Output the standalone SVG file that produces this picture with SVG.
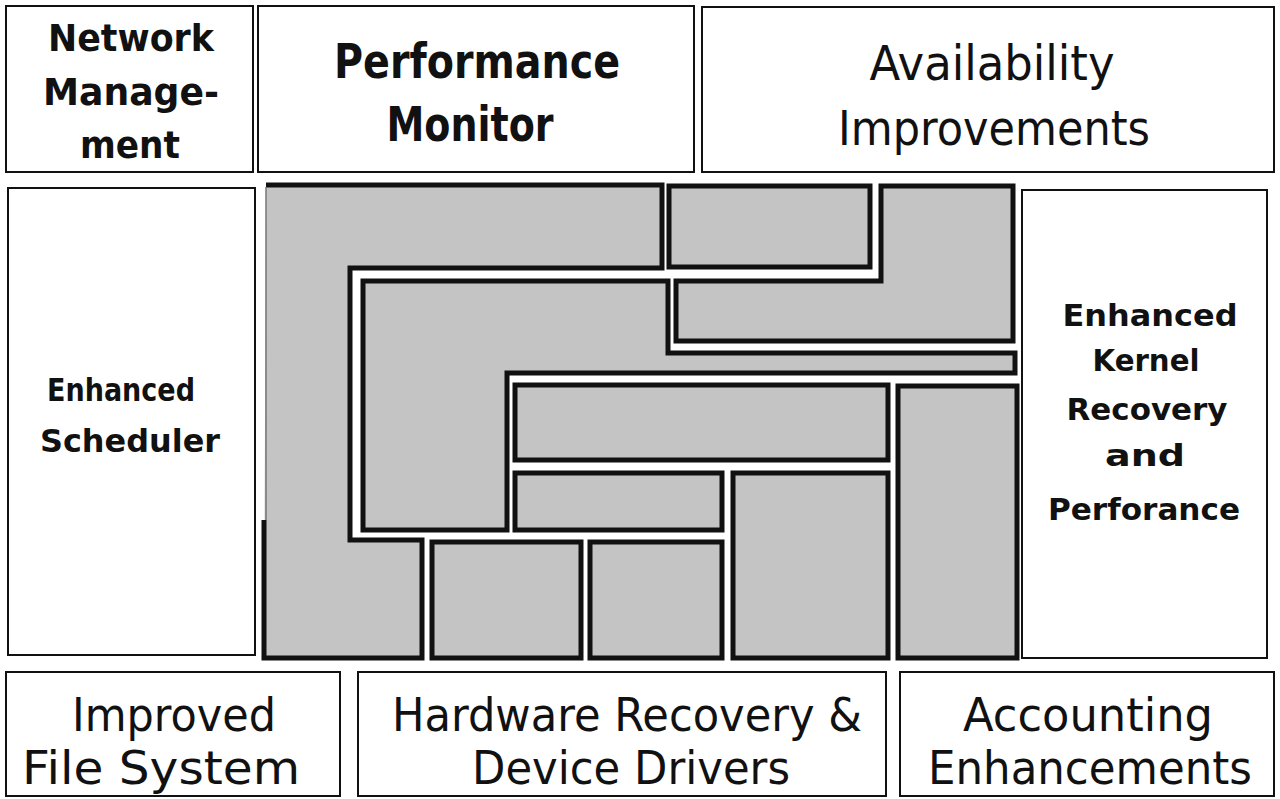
<svg xmlns="http://www.w3.org/2000/svg" width="1280" height="799" viewBox="0 0 1280 799">
<defs>
<style>
.box{fill:#fff;stroke:#111;stroke-width:2}
.sh{fill:#c4c4c4;stroke:#111;stroke-width:5;stroke-linejoin:miter}
.shf{fill:#c4c4c4;stroke:none}
.shs{fill:none;stroke:#111;stroke-width:5;stroke-linejoin:miter}
.t{font-family:"DejaVu Sans","Liberation Sans",sans-serif;fill:#111;text-anchor:middle}
.b{font-weight:bold}
</style>
</defs>
<rect x="0" y="0" width="1280" height="799" fill="#fff"/>

<g id="network-management">
<rect class="box" x="6" y="6" width="247" height="166"/>
<text class="t b" x="131" y="51" font-size="38" textLength="166" lengthAdjust="spacingAndGlyphs">Network</text>
<text class="t b" x="131" y="105" font-size="38" textLength="176" lengthAdjust="spacingAndGlyphs">Manage-</text>
<text class="t b" x="130" y="158" font-size="38" textLength="100" lengthAdjust="spacingAndGlyphs">ment</text>
</g>
<g id="performance-monitor">
<rect class="box" x="258" y="6" width="436" height="166"/>
<text class="t b" x="477" y="78" font-size="48" textLength="286" lengthAdjust="spacingAndGlyphs">Performance</text>
<text class="t b" x="470" y="141" font-size="48" textLength="167" lengthAdjust="spacingAndGlyphs">Monitor</text>
</g>
<g id="availability-improvements">
<rect class="box" x="702" y="7" width="572" height="165"/>
<text class="t" x="992" y="80" font-size="48" textLength="245" lengthAdjust="spacingAndGlyphs">Availability</text>
<text class="t" x="994" y="145" font-size="48" textLength="312" lengthAdjust="spacingAndGlyphs">Improvements</text>
</g>

<g id="enhanced-scheduler">
<rect class="box" x="8" y="188" width="247" height="467"/>
<text class="t b" x="121" y="401" font-size="32" textLength="148" lengthAdjust="spacingAndGlyphs">Enhanced</text>
<text class="t b" x="130" y="452" font-size="32" textLength="180" lengthAdjust="spacingAndGlyphs">Scheduler</text>
</g>
<g id="enhanced-kernel">
<rect class="box" x="1022" y="190" width="245" height="468"/>
<text class="t b" x="1150" y="326" font-size="31" textLength="175" lengthAdjust="spacingAndGlyphs">Enhanced</text>
<text class="t b" x="1146" y="371" font-size="31" textLength="107" lengthAdjust="spacingAndGlyphs">Kernel</text>
<text class="t b" x="1147" y="420" font-size="31" textLength="161" lengthAdjust="spacingAndGlyphs">Recovery</text>
<text class="t b" x="1145" y="466" font-size="31" textLength="80" lengthAdjust="spacingAndGlyphs">and</text>
<text class="t b" x="1144" y="520" font-size="31" textLength="192" lengthAdjust="spacingAndGlyphs">Perforance</text>
</g>

<g id="kernel-blocks">
<path class="shf" d="M266,185 H662 V268 H350 V540 H422 V658 H264 Z"/>
<path class="shs" d="M264,520 V658 H422 V540 H350 V268 H662 V185 H266"/>
<path d="M266,187 V520" fill="none" stroke="#777" stroke-width="1.5"/>
<rect class="sh" x="669" y="186" width="201" height="81"/>
<path class="sh" d="M881,186 H1013 V341 H676 V281 H881 Z"/>
<path class="sh" d="M363,281 H668 V353 H1015 V373 H507 V530 H363 Z"/>
<rect class="sh" x="515" y="385" width="373" height="75"/>
<rect class="sh" x="515" y="473" width="207" height="57"/>
<rect class="sh" x="733" y="473" width="155" height="185"/>
<rect class="sh" x="898" y="386" width="119" height="272"/>
<rect class="sh" x="432" y="542" width="149" height="116"/>
<rect class="sh" x="590" y="542" width="132" height="116"/>
</g>

<g id="improved-file-system">
<rect class="box" x="6" y="672" width="334" height="124"/>
<text class="t" x="174" y="731" font-size="46" textLength="204" lengthAdjust="spacingAndGlyphs">Improved</text>
<text class="t" x="161" y="784" font-size="46" textLength="278" lengthAdjust="spacingAndGlyphs">File System</text>
</g>
<g id="hardware-recovery">
<rect class="box" x="358" y="672" width="528" height="124"/>
<text class="t" x="627" y="731" font-size="46" textLength="470" lengthAdjust="spacingAndGlyphs">Hardware Recovery &amp;</text>
<text class="t" x="631" y="784" font-size="46" textLength="318" lengthAdjust="spacingAndGlyphs">Device Drivers</text>
</g>
<g id="accounting-enhancements">
<rect class="box" x="900" y="672" width="374" height="124"/>
<text class="t" x="1088" y="731" font-size="46" textLength="250" lengthAdjust="spacingAndGlyphs">Accounting</text>
<text class="t" x="1090" y="784" font-size="46" textLength="324" lengthAdjust="spacingAndGlyphs">Enhancements</text>
</g>
<g id="connectors"/>
</svg>
